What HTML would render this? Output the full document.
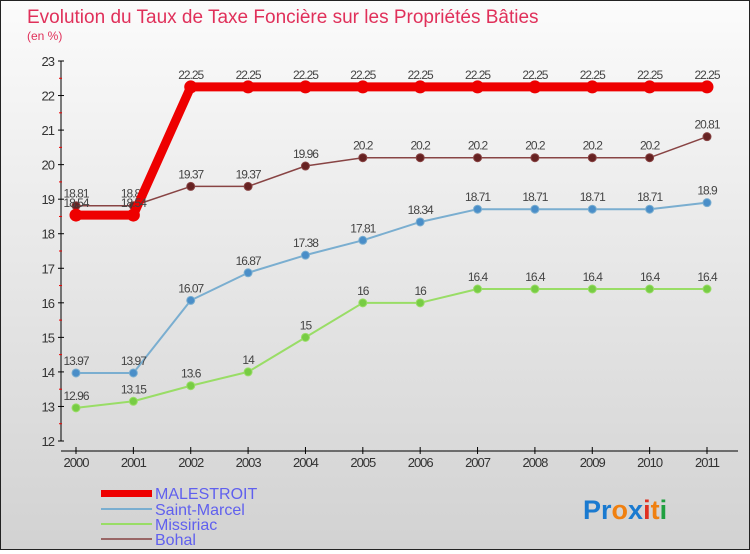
<!DOCTYPE html>
<html><head><meta charset="utf-8"><style>
body{margin:0;width:750px;height:550px;overflow:hidden;font-family:"Liberation Sans",sans-serif}
#wrap{position:relative;width:748px;height:548px;border:1px solid #222;background:linear-gradient(#fbfbfb,#d2d2d2)}
</style></head><body>
<div id="wrap">
<svg id="c" width="748" height="548" xmlns="http://www.w3.org/2000/svg" font-family="Liberation Sans, sans-serif">
<text x="26" y="22" font-size="19" fill="#e0305a">Evolution du Taux de Taxe Foncière sur les Propriétés Bâties</text>
<text x="26" y="39" font-size="12" fill="#e0305a">(en %)</text>
<g id="axes"></g><g id="series"></g>
<g>
<rect x="100" y="489" width="51" height="7" fill="#ee0000"/>
<text x="154" y="498" font-size="16" fill="#6060ee">MALESTROIT</text>
<rect x="100" y="507" width="51" height="2" fill="#7aaed0"/>
<text x="154" y="514" font-size="16" fill="#6060ee">Saint-Marcel</text>
<rect x="100" y="522" width="51" height="2" fill="#99dd66"/>
<text x="154" y="529" font-size="16" fill="#6060ee">Missiriac</text>
<rect x="100" y="537" width="51" height="2" fill="#996666"/>
<text x="154" y="544" font-size="16" fill="#6060ee">Bohal</text>
</g>
<text x="582" y="518" font-size="27" font-weight="bold"><tspan fill="#1a7ad0">Pr</tspan><tspan fill="#f08010">o</tspan><tspan fill="#1a7ad0">x</tspan><tspan fill="#e03020">i</tspan><tspan fill="#f08010">t</tspan><tspan fill="#20a040">i</tspan></text>
</svg></div>
<script>
const years=[2000,2001,2002,2003,2004,2005,2006,2007,2008,2009,2010,2011];
const yTicks=[12,13,14,15,16,17,18,19,20,21,22,23];
const malestroit=[18.54,18.54,22.25,22.25,22.25,22.25,22.25,22.25,22.25,22.25,22.25,22.25];
const saintMarcel=[13.97,13.97,16.07,16.87,17.38,17.81,18.34,18.71,18.71,18.71,18.71,18.9];
const missiriac=[12.96,13.15,13.6,14,15,16,16,16.4,16.4,16.4,16.4,16.4];
const bohal=[18.81,18.81,19.37,19.37,19.96,20.2,20.2,20.2,20.2,20.2,20.2,20.81];
const NS="http://www.w3.org/2000/svg";
const xs=i=>75+i*(631/11);
const ys=v=>440-(v-12)*(380/11);
function mk(t,a,p){const e=document.createElementNS(NS,t);for(const k in a)e.setAttribute(k,a[k]);p.appendChild(e);return e;}
const ax=document.getElementById('axes');
let yl=mk('line',{x1:60,y1:60,x2:60,y2:440,stroke:'#000'},ax);


let xl=mk('line',{x1:60,y1:450,x2:737,y2:450,stroke:'#000'},ax);


yTicks.forEach((v,i)=>{
 mk('line',{x1:57,y1:ys(v),x2:63,y2:ys(v),stroke:'#000'},ax);
 if(i<yTicks.length-1)mk('line',{x1:58,y1:ys(v+0.5),x2:61,y2:ys(v+0.5),stroke:'#e00'},ax);
 const t=mk('text',{x:53,y:ys(v)+5,'font-size':13,fill:'#333','text-anchor':'end','letter-spacing':'-1'},ax);
 t.textContent=v;
 
 
});
years.forEach((y,i)=>{
 mk('line',{x1:xs(i),y1:446,x2:xs(i),y2:453,stroke:'#000'},ax);
 const t=mk('text',{x:xs(i),y:466,'font-size':13,fill:'#333','text-anchor':'middle','letter-spacing':'-1'},ax);
 t.textContent=y;
 
 
});
const sg=document.getElementById('series');
function draw(data,name,color,w,r,dot){
 const g=mk('g',{},sg);
 
 
 mk('polyline',{points:data.map((v,i)=>xs(i)+','+ys(v)).join(' '),fill:'none',stroke:color,'stroke-width':w,'stroke-linejoin':'round'},g);
 data.forEach((v,i)=>{
  const c=mk('circle',{cx:xs(i),cy:ys(v),r:r,fill:dot,stroke:color,'stroke-width':1},g);
  
  
  const t=mk('text',{x:xs(i),y:ys(v)-8,'font-size':12,fill:'#444','text-anchor':'middle','letter-spacing':'-1'},g);
  t.textContent=v;
  
  
 });
}
draw(missiriac,'missiriac','#99dd66',2,4,'#77cc44');
draw(saintMarcel,'saint-marcel','#7aaed0',2,4,'#4a8ec8');
draw(bohal,'bohal','#884444',1.5,4,'#662222');
draw(malestroit,'malestroit','#ee0000',9,6,'#ee0000');
</script>
</body></html>
